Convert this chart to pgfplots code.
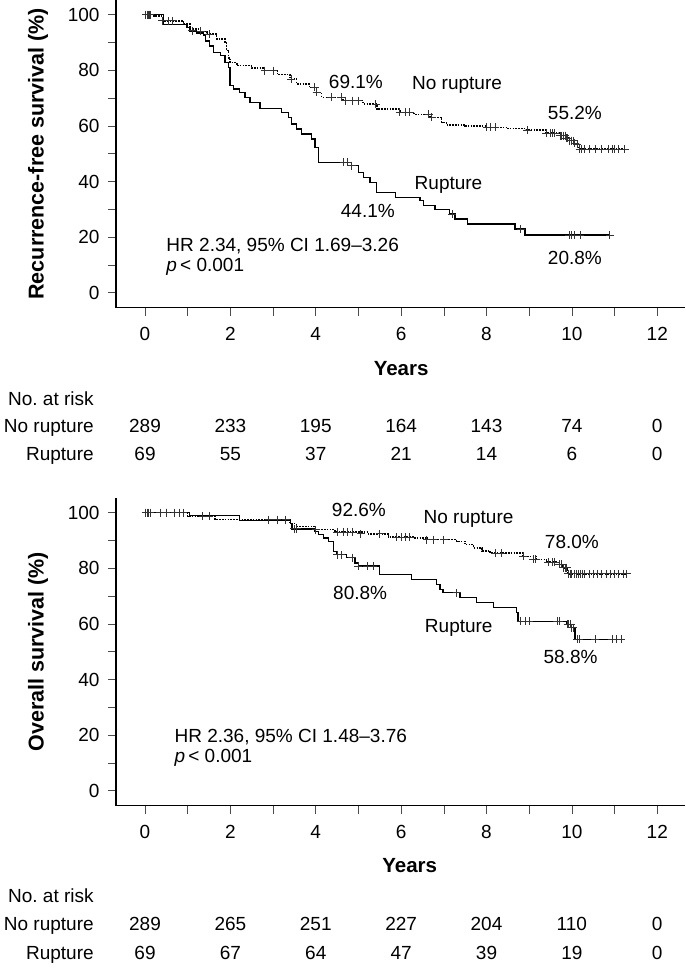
\documentclass[border=0pt]{standalone}
\usepackage{fontspec}
\setmainfont{Liberation Sans}
\usepackage{pgfplots}
\pgfplotsset{compat=1.18}
\frenchspacing
\newcommand{\fs}{\fontsize{19}{22}\selectfont}
\newcommand{\fb}{\bfseries\fontsize{20.5}{24}\selectfont}
\newcommand{\fy}{\bfseries\fontsize{21.5}{25}\selectfont}
\tikzset{lab/.style={font=\fs, anchor=base}}
\pgfplotsset{kmaxis/.style={
  scale only axis, width=569pt, height=307.5pt,
  xmin=-0.68, xmax=12.65, ymin=-5.3, ymax=105.3,
  axis x line*=bottom, axis y line*=left,
  xtick={0,2,...,12}, minor xtick={1,3,...,11},
  ytick={0,20,...,100}, minor ytick={10,30,...,90},
  tick align=outside, major tick length=8pt, minor tick length=8pt,
  tick style={black!70, line width=0.6pt},
  axis line style={black, line width=1.2pt},
  ticklabel style={font=\fs},
  xticklabel style={yshift=-8pt},
  yticklabel style={xshift=-5pt},
  /pgf/number format/assume math mode=true,
  clip=false,
  ylabel style={font=\fy, at={(axis description cs:-0.137,0.5)}, anchor=center},
  surv/.style={const plot, black, line width=1.3pt, mark=none},
  nosurv/.style={const plot, black, line width=1.5pt, mark=none, dash pattern=on 1.6pt off 1.2pt},
  cens/.style={only marks, mark=+, mark size=4pt, black!80, mark options={line width=0.85pt, solid}},
}}
\begin{document}
\begin{tikzpicture}[x=1pt,y=1pt]
\useasboundingbox (0,0) rectangle (685,-971);
% ---------------- Top panel ----------------
\begin{axis}[kmaxis, at={(116pt,-307.5pt)}, anchor=south west,
  ylabel={Recurrence-free survival (\%)}]
% No rupture
\addplot[nosurv] coordinates {(0,100)(0.2,99.6)(0.43,97.8)(0.9,96.6)(1.05,94.8)(1.3,94.0)(1.45,93.0)(1.68,91.2)(1.87,90.0)(1.91,87.1)(1.95,84.5)(1.99,82.8)(2.15,81.7)(2.5,80.8)(2.77,79.9)(3.1,78.5)(3.40,76.9)(3.55,75.1)(3.85,73.9)(4.02,72.1)(4.14,70.3)(4.64,69.1)(5.11,67.9)(5.43,66.1)(5.97,64.9)(6.3,64.2)(6.68,63.1)(6.95,61.3)(7.06,60.4)(7.5,60.0)(7.99,59.5)(8.5,59.0)(8.92,58.5)(9.39,57.4)(9.70,56.5)(9.85,55.6)(9.93,54.7)(10.05,53.8)(10.09,53.5)(10.16,51.7)(11.24,51.7)};
\addplot[cens] coordinates {(0.02,100)(0.07,100)(0.12,100)(0.4,97.8)(0.55,97.8)(0.65,97.8)(1.3,94.0)(1.5,93.0)(2.8,79.9)(3.0,79.9)(3.43,76.9)(3.98,73.9)(4.02,72.1)(4.36,70.3)(4.6,70.3)(4.7,69.1)(4.85,69.1)(5.0,69.1)(5.4,67.9)(5.97,64.9)(6.09,64.9)(6.2,64.9)(6.65,64.2)(6.72,63.1)(8.0,59.5)(8.1,59.5)(8.2,59.5)(8.95,58.5)(9.4,57.4)(9.5,57.4)(9.55,57.4)(9.6,57.4)(9.72,56.5)(9.76,56.5)(9.8,56.5)(9.84,56.5)(9.87,55.6)(9.9,55.6)(9.95,54.7)(9.98,54.7)(10.0,54.7)(10.03,54.7)(10.07,53.8)(10.12,53.5)(10.18,51.7)(10.22,51.7)(10.3,51.7)(10.4,51.7)(10.55,51.7)(10.7,51.7)(10.85,51.7)(10.95,51.7)(11.0,51.7)(11.1,51.7)(11.24,51.7)};
% Rupture
\addplot[surv] coordinates {(0,100)(0.43,96.6)(0.98,95.4)(1.05,94.2)(1.21,93.4)(1.37,92.7)(1.41,90.6)(1.51,88.8)(1.6,86.4)(1.76,85.3)(1.87,82.8)(1.95,81.0)(1.99,74.5)(2.07,73.3)(2.22,72.1)(2.34,70.3)(2.46,68.5)(2.69,66.4)(3.20,64.9)(3.36,63.1)(3.43,60.7)(3.55,58.9)(3.67,57.1)(3.90,55.3)(3.98,52.3)(4.06,46.9)(4.84,45.7)(5.00,43.3)(5.11,41.5)(5.27,39.7)(5.43,36.1)(5.86,34.3)(6.44,33.1)(6.52,31.3)(6.79,30.0)(7.14,28.3)(7.26,26.5)(7.55,24.7)(8.67,22.9)(8.90,20.8)(10.89,20.8)};
\addplot[cens] coordinates {(0.05,100)(0.1,100)(1.1,94.2)(4.65,46.9)(4.73,46.9)(4.84,45.7)(7.2,28.3)(8.8,22.9)(9.94,20.8)(9.98,20.8)(10.05,20.8)(10.2,20.8)(10.89,20.8)};
% annotations
\node[lab] at (axis cs:4.94,73.3) {69.1\%};
\node[lab] at (axis cs:7.31,73.1) {No rupture};
\node[lab] at (axis cs:10.07,62.3) {55.2\%};
\node[lab] at (axis cs:7.11,37.1) {Rupture};
\node[lab] at (axis cs:5.22,26.9) {44.1\%};
\node[lab] at (axis cs:10.07,10.1) {20.8\%};
\node[lab, anchor=base west] at (axis cs:0.42,14.7) {HR 2.34, 95\% CI 1.69–3.26};
\node[lab, anchor=base west] at (axis cs:0.42,7.8) {\textit{p}\,< 0.001};
% x label and risk table
\node[font=\fb, anchor=base] at (axis cs:6,-29.6) {Years};
\node[lab, anchor=base east] at (axis cs:-1.12,-40.4) {No. at risk};
\node[lab, anchor=base east] at (axis cs:-1.12,-50.1) {No rupture};
\node[lab, anchor=base east] at (axis cs:-1.12,-60.5) {Rupture};
\node[lab] at (axis cs:0,-50.1) {289};
\node[lab] at (axis cs:2,-50.1) {233};
\node[lab] at (axis cs:4,-50.1) {195};
\node[lab] at (axis cs:6,-50.1) {164};
\node[lab] at (axis cs:8,-50.1) {143};
\node[lab] at (axis cs:10,-50.1) {74};
\node[lab] at (axis cs:12,-50.1) {0};
\node[lab] at (axis cs:0,-60.5) {69};
\node[lab] at (axis cs:2,-60.5) {55};
\node[lab] at (axis cs:4,-60.5) {37};
\node[lab] at (axis cs:6,-60.5) {21};
\node[lab] at (axis cs:8,-60.5) {14};
\node[lab] at (axis cs:10,-60.5) {6};
\node[lab] at (axis cs:12,-60.5) {0};
\end{axis}
% ---------------- Bottom panel ----------------
\begin{axis}[kmaxis, at={(116pt,-805.5pt)}, anchor=south west,
  ylabel={Overall survival (\%)}]
% No rupture
\addplot[nosurv] coordinates {(0,100)(1.0,98.7)(1.64,97.5)(3.40,96.1)(3.55,95.1)(3.98,93.9)(4.45,93.1)(5.23,92.4)(5.7,91.3)(6.3,91.0)(6.6,90.3)(7.3,89.7)(7.5,88.5)(7.7,87.3)(7.9,86.3)(8.08,85.5)(8.86,84.3)(9.17,83.2)(9.40,82.2)(9.63,81.4)(9.79,80.2)(9.9,78.0)(11.28,78.0)};
\addplot[cens] coordinates {(0.02,100)(0.07,100)(0.12,100)(0.35,100)(0.5,100)(0.7,100)(0.9,100)(1.35,98.7)(1.5,98.7)(2.9,97.5)(3.1,97.5)(3.3,97.5)(4.0,93.9)(4.5,93.1)(4.65,93.1)(4.75,93.1)(4.85,93.1)(5.05,92.4)(5.5,92.4)(5.9,91.3)(6.0,91.3)(6.1,91.3)(6.2,91.3)(6.6,90.3)(6.75,90.3)(7.0,90.3)(8.2,85.5)(8.35,85.5)(8.86,84.3)(9.1,83.2)(9.15,83.2)(9.45,82.2)(9.55,82.2)(9.6,82.2)(9.7,81.4)(9.75,81.4)(9.8,80.2)(9.85,80.2)(9.88,80.2)(9.92,78.0)(9.96,78.0)(10.0,78.0)(10.05,78.0)(10.1,78.0)(10.15,78.0)(10.2,78.0)(10.25,78.0)(10.3,78.0)(10.4,78.0)(10.5,78.0)(10.6,78.0)(10.7,78.0)(10.8,78.0)(10.9,78.0)(11.0,78.0)(11.1,78.0)(11.2,78.0)(11.28,78.0)};
% Rupture
\addplot[surv] coordinates {(0,100)(1.05,98.9)(2.22,97.2)(3.40,96.1)(3.44,94.2)(3.98,93.3)(4.06,92.1)(4.18,90.9)(4.29,89.7)(4.41,86.1)(4.49,84.9)(4.72,83.8)(4.92,81.9)(5.0,80.8)(5.50,77.8)(6.25,76.0)(6.83,74.2)(6.91,72.4)(6.98,71.2)(7.38,69.4)(7.77,67.6)(8.16,65.8)(8.70,64.0)(8.74,61.0)(9.88,59.9)(9.99,58.7)(10.07,54.5)(11.16,54.5)};
\addplot[cens] coordinates {(0.02,100)(0.05,100)(0.5,100)(0.8,100)(3.5,94.2)(3.55,94.2)(4.5,84.9)(4.6,84.9)(4.85,83.8)(5.0,80.8)(5.2,80.8)(5.35,80.8)(7.3,71.2)(8.8,61.0)(8.9,61.0)(9.0,61.0)(9.65,61.0)(9.7,61.0)(9.9,59.9)(9.93,59.9)(9.97,59.9)(10.0,58.7)(10.03,58.7)(10.12,54.5)(10.17,54.5)(10.55,54.5)(10.95,54.5)(11.05,54.5)(11.16,54.5)};
% annotations
\node[lab] at (axis cs:5.01,98.5) {92.6\%};
\node[lab] at (axis cs:7.58,96.1) {No rupture};
\node[lab] at (axis cs:10.0,87.1) {78.0\%};
\node[lab] at (axis cs:5.04,68.8) {80.8\%};
\node[lab] at (axis cs:7.35,56.9) {Rupture};
\node[lab] at (axis cs:9.97,45.7) {58.8\%};
\node[lab, anchor=base west] at (axis cs:0.61,17.2) {HR 2.36, 95\% CI 1.48–3.76};
\node[lab, anchor=base west] at (axis cs:0.61,10.1) {\textit{p}\,< 0.001};
% x label and risk table
\node[font=\fb, anchor=base] at (axis cs:6.2,-29.5) {Years};
\node[lab, anchor=base east] at (axis cs:-1.12,-40.2) {No. at risk};
\node[lab, anchor=base east] at (axis cs:-1.12,-50.3) {No rupture};
\node[lab, anchor=base east] at (axis cs:-1.12,-60.7) {Rupture};
\node[lab] at (axis cs:0,-50.3) {289};
\node[lab] at (axis cs:2,-50.3) {265};
\node[lab] at (axis cs:4,-50.3) {251};
\node[lab] at (axis cs:6,-50.3) {227};
\node[lab] at (axis cs:8,-50.3) {204};
\node[lab] at (axis cs:10,-50.3) {110};
\node[lab] at (axis cs:12,-50.3) {0};
\node[lab] at (axis cs:0,-60.7) {69};
\node[lab] at (axis cs:2,-60.7) {67};
\node[lab] at (axis cs:4,-60.7) {64};
\node[lab] at (axis cs:6,-60.7) {47};
\node[lab] at (axis cs:8,-60.7) {39};
\node[lab] at (axis cs:10,-60.7) {19};
\node[lab] at (axis cs:12,-60.7) {0};
\end{axis}
\end{tikzpicture}
\end{document}
